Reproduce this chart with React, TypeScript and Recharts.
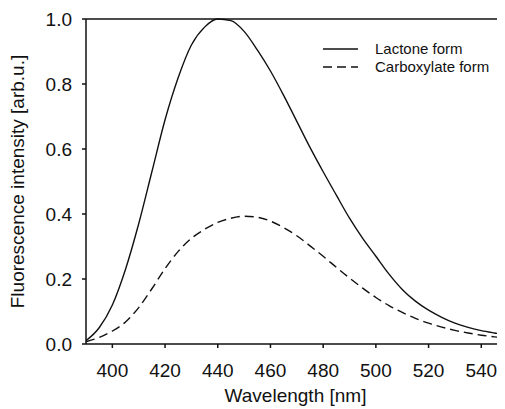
import React from "react";
import { Line, LineChart, ReferenceLine, XAxis, YAxis } from "recharts";

// Wavelength (nm)
const wavelengths = [
  390, 395, 400, 405, 410, 415, 420, 425, 430, 435, 440, 445, 450, 455, 460,
  465, 470, 475, 480, 485, 490, 495, 500, 505, 510, 515, 520, 525, 530, 535,
  540, 545, 550,
];

const lactone = [
  0.01, 0.05, 0.12, 0.23, 0.37, 0.53, 0.69, 0.82, 0.92, 0.975, 1.0, 0.995,
  0.962, 0.905, 0.84, 0.765, 0.685, 0.605, 0.53, 0.458, 0.387, 0.325, 0.27,
  0.215, 0.168, 0.132, 0.104, 0.082, 0.064, 0.051, 0.041, 0.034, 0.028,
];

const carboxylate = [
  0.007, 0.02, 0.04, 0.068, 0.112, 0.17, 0.232, 0.285, 0.325, 0.353, 0.374,
  0.387, 0.393, 0.39, 0.378, 0.358, 0.333, 0.302, 0.27, 0.236, 0.203, 0.172,
  0.143, 0.118, 0.097, 0.079, 0.064, 0.052, 0.042, 0.034, 0.027, 0.022, 0.018,
];

const xTicks = [400, 420, 440, 460, 480, 500, 520, 540];
const yTicks = [0, 0.2, 0.4, 0.6, 0.8, 1.0];

const data = wavelengths.map((w, i) => ({
  w,
  lactone: lactone[i],
  carboxylate: carboxylate[i],
}));

const FONT = '"Liberation Sans", Arial, sans-serif';
const INK = "#111";

const legendRows = [
  { label: "Lactone form", dash: undefined as string | undefined },
  { label: "Carboxylate form", dash: "9 5" },
];

function LegendBox() {
  return (
    <div
      style={{
        position: "absolute",
        left: 315,
        top: 32,
        fontFamily: FONT,
        fontSize: 15,
        color: INK,
      }}
    >
      {legendRows.map((r) => (
        <div
          key={r.label}
          style={{ display: "flex", alignItems: "center", height: 18 }}
        >
          <svg width={35} height={4} style={{ marginRight: 17 }}>
            <line
              x1={0}
              y1={2}
              x2={35}
              y2={2}
              stroke={INK}
              strokeWidth={1.4}
              strokeDasharray={r.dash}
            />
          </svg>
          <span style={{ lineHeight: "18px" }}>{r.label}</span>
        </div>
      ))}
    </div>
  );
}

export default function App() {
  return (
    <div
      style={{ position: "relative", width: 497, height: 401, overflow: "hidden" }}
    >
      <LineChart
        width={497}
        height={401}
        data={data}
        margin={{ top: 11, right: 0, bottom: 0, left: 0 }}
      >
        <XAxis
          dataKey="w"
          type="number"
          domain={[390, 549]}
          allowDataOverflow
          ticks={xTicks}
          height={65}
          tickSize={4}
          tickMargin={16}
          stroke={INK}
          strokeWidth={1.5}
          tick={{ fill: INK, fontSize: 19, fontFamily: FONT }}
          label={{
            value: "Wavelength [nm]",
            position: "insideBottom",
            offset: 7,
            fill: INK,
            fontSize: 19,
            fontFamily: FONT,
          }}
        />
        <YAxis
          type="number"
          domain={[0, 1]}
          ticks={yTicks}
          width={78}
          tickSize={4}
          tickMargin={10}
          stroke={INK}
          strokeWidth={1.5}
          tickFormatter={(v: number) => v.toFixed(1)}
          tick={{ fill: INK, fontSize: 19, fontFamily: FONT }}
          label={{
            value: "Fluorescence intensity [arb.u.]",
            angle: -90,
            position: "insideLeft",
            offset: 9,
            fill: INK,
            fontSize: 19,
            fontFamily: FONT,
            style: { textAnchor: "middle" },
          }}
        />
        <ReferenceLine y={1} stroke={INK} strokeWidth={1.5} />
        <Line
          dataKey="lactone"
          type="monotone"
          stroke={INK}
          strokeWidth={1.4}
          dot={false}
          isAnimationActive={false}
        />
        <Line
          dataKey="carboxylate"
          type="monotone"
          stroke={INK}
          strokeWidth={1.4}
          strokeDasharray="9 5"
          dot={false}
          isAnimationActive={false}
        />
      </LineChart>
      <LegendBox />
    </div>
  );
}
